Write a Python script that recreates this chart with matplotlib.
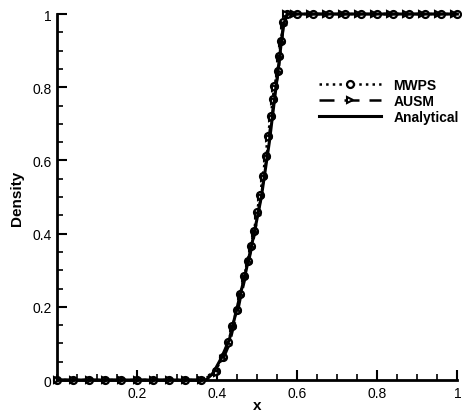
import numpy as np
import matplotlib
matplotlib.use('Agg')
import matplotlib.pyplot as plt
from matplotlib.ticker import MultipleLocator, FixedLocator

plt.rcParams['font.family'] = ['Liberation Sans', 'DejaVu Sans']

# MWPS solution
x_mwps = [0.0, 0.04, 0.08, 0.12, 0.16, 0.20, 0.24, 0.28, 0.32, 0.36,
          0.396, 0.413, 0.4275, 0.4375, 0.4485, 0.457, 0.4675, 0.476,
          0.4835, 0.492, 0.4985, 0.507, 0.5135, 0.521, 0.526, 0.534,
          0.5385, 0.5425, 0.551, 0.554, 0.559, 0.565, 0.575,
          0.60, 0.64, 0.68, 0.72, 0.76, 0.80, 0.84, 0.88, 0.92, 0.96, 1.0]
rho_mwps = [0.0, 0.0, 0.0, 0.0, 0.0, 0.0, 0.0, 0.0, 0.0, 0.0,
            0.025, 0.064, 0.103, 0.148, 0.191, 0.235, 0.285, 0.326,
            0.367, 0.408, 0.458, 0.505, 0.558, 0.613, 0.667, 0.722,
            0.768, 0.804, 0.845, 0.886, 0.927, 0.977, 1.0,
            1.0, 1.0, 1.0, 1.0, 1.0, 1.0, 1.0, 1.0, 1.0, 1.0, 1.0]

# AUSM solution
x_ausm = [0.0, 0.04, 0.08, 0.12, 0.16, 0.20, 0.24, 0.28, 0.32, 0.36,
          0.398, 0.415, 0.43, 0.44, 0.451, 0.459, 0.47, 0.478,
          0.486, 0.494, 0.501, 0.509, 0.516, 0.523, 0.528, 0.536,
          0.541, 0.545, 0.553, 0.556, 0.561, 0.566, 0.572,
          0.592, 0.632, 0.672, 0.712, 0.752, 0.792, 0.832, 0.872, 0.912, 0.952, 0.992]
rho_ausm = [0.0, 0.0, 0.0, 0.0, 0.0, 0.0, 0.0, 0.0, 0.0, 0.0,
            0.02, 0.058, 0.097, 0.142, 0.185, 0.229, 0.279, 0.32,
            0.361, 0.402, 0.452, 0.499, 0.552, 0.607, 0.661, 0.716,
            0.762, 0.798, 0.839, 0.88, 0.921, 0.97, 1.0,
            1.0, 1.0, 1.0, 1.0, 1.0, 1.0, 1.0, 1.0, 1.0, 1.0, 1.0]

# analytical solution
x_exact = [0.0, 0.372, 0.39, 0.41, 0.43, 0.45, 0.47, 0.49, 0.51, 0.53, 0.55, 0.565, 0.575, 1.0]
rho_exact = [0.0, 0.0, 0.02, 0.06, 0.11, 0.2, 0.29, 0.39, 0.5, 0.65, 0.83, 0.97, 1.0, 1.0]

fig = plt.figure(figsize=(4.62, 4.14), dpi=100)
ax = fig.add_axes([0.124, 0.0797, 0.866, 0.884])

ax.plot(x_mwps, rho_mwps, color='black', linestyle=':', linewidth=1.8,
        marker='o', markersize=5, markerfacecolor='white', markeredgewidth=1.6,
        label='MWPS', clip_on=False, zorder=3)
ax.plot(x_ausm, rho_ausm, color='black', linestyle=(0, (6, 4)), linewidth=1.8,
        marker='>', markersize=4.5, markerfacecolor='white', markeredgewidth=1.5,
        label='AUSM', clip_on=False, zorder=4)
ax.plot(x_exact, rho_exact, color='black', linestyle='-', linewidth=2.2,
        label='Analytical', clip_on=False, zorder=5)

ax.set_xlim(0, 1)
ax.set_ylim(0, 1)
ax.spines['top'].set_visible(False)
ax.spines['right'].set_visible(False)
ax.spines['left'].set_linewidth(2)
ax.spines['bottom'].set_linewidth(2)

ax.xaxis.set_major_locator(FixedLocator([0.2, 0.4, 0.6, 0.8, 1.0]))
ax.xaxis.set_minor_locator(MultipleLocator(0.05))
ax.set_xticklabels(['0.2', '0.4', '0.6', '0.8', '1'])
ax.yaxis.set_major_locator(FixedLocator([0, 0.2, 0.4, 0.6, 0.8, 1.0]))
ax.yaxis.set_minor_locator(MultipleLocator(0.05))
ax.set_yticklabels(['0', '0.2', '0.4', '0.6', '0.8', '1'])
ax.tick_params(which='major', direction='in', length=7, width=1.5, labelsize=10, pad=4)
ax.tick_params(which='minor', direction='in', length=4, width=1.2)

ax.set_xlabel('x', fontsize=11, fontweight='bold', labelpad=-1)
ax.set_ylabel('Density', fontsize=11, fontweight='bold', labelpad=6)

leg = ax.legend(loc='upper right', bbox_to_anchor=(1.035, 0.86), frameon=False,
                prop={'weight': 'bold', 'size': 10}, handlelength=4.5,
                labelspacing=0.15, handletextpad=0.9)

fig.savefig('out.png', dpi=100)
